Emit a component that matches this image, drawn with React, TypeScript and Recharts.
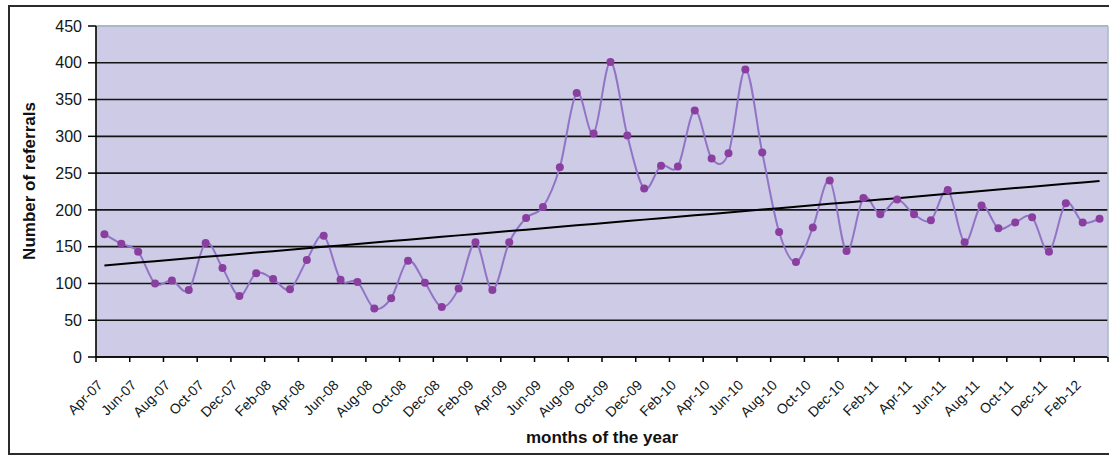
import React from 'react';
import { LineChart, Line, XAxis, YAxis, CartesianGrid, ReferenceLine } from 'recharts';

// Monthly categories, Apr-07 through Mar-12
const months = [
  'Apr-07', 'May-07', 'Jun-07', 'Jul-07', 'Aug-07', 'Sep-07', 'Oct-07', 'Nov-07', 'Dec-07',
  'Jan-08', 'Feb-08', 'Mar-08', 'Apr-08', 'May-08', 'Jun-08', 'Jul-08', 'Aug-08', 'Sep-08', 'Oct-08', 'Nov-08', 'Dec-08',
  'Jan-09', 'Feb-09', 'Mar-09', 'Apr-09', 'May-09', 'Jun-09', 'Jul-09', 'Aug-09', 'Sep-09', 'Oct-09', 'Nov-09', 'Dec-09',
  'Jan-10', 'Feb-10', 'Mar-10', 'Apr-10', 'May-10', 'Jun-10', 'Jul-10', 'Aug-10', 'Sep-10', 'Oct-10', 'Nov-10', 'Dec-10',
  'Jan-11', 'Feb-11', 'Mar-11', 'Apr-11', 'May-11', 'Jun-11', 'Jul-11', 'Aug-11', 'Sep-11', 'Oct-11', 'Nov-11', 'Dec-11',
  'Jan-12', 'Feb-12', 'Mar-12',
];

// Number of referrals per month
const referrals = [
  167, 154, 143, 100, 104, 91, 155, 121, 83, 114,
  106, 92, 132, 165, 105, 102, 66, 80, 131, 101,
  68, 93, 156, 91, 156, 189, 204, 258, 359, 304,
  401, 301, 229, 260, 259, 335, 270, 277, 391, 278,
  170, 129, 176, 240, 144, 216, 194, 214, 194, 186,
  227, 156, 206, 175, 183, 190, 143, 209, 183, 188,
];

const yTicks = [0, 50, 100, 150, 200, 250, 300, 350, 400, 450];

// Least-squares linear trend over the monthly series
const n = referrals.length;
const meanX = (n - 1) / 2;
const meanY = referrals.reduce((s, v) => s + v, 0) / n;
let sxy = 0;
let sxx = 0;
referrals.forEach((v, i) => {
  sxy += (i - meanX) * (v - meanY);
  sxx += (i - meanX) * (i - meanX);
});
const slope = sxy / sxx;
const intercept = meanY - slope * meanX;

const data = months.map((m, i) => ({
  month: m,
  referrals: referrals[i],
  trend: intercept + slope * i,
}));

// Layout
const W = 1109;
const H = 459;
const MARGIN = { top: 26, right: 0, bottom: 42, left: 36 };
const Y_AXIS_W = 60;
const RIGHT_AXIS_W = 1;
const X_AXIS_H = 60;
const PLOT_LEFT = MARGIN.left + Y_AXIS_W;
const PLOT_W = W - PLOT_LEFT - MARGIN.right - RIGHT_AXIS_W;
const AXIS_Y = H - MARGIN.bottom - X_AXIS_H;
const BAND = PLOT_W / months.length;

const FONT = '"Liberation Sans", Arial, sans-serif';
const TEXT = '#101820';

// Smoothed line through every point (cubic Bezier, 1/6 tangent factor)
const smoothCurve = (context: any) => {
  let pts: number[][] = [];
  return {
    areaStart() {},
    areaEnd() {},
    lineStart() {
      pts = [];
    },
    lineEnd() {
      const len = pts.length;
      if (!len) return;
      context.moveTo(pts[0][0], pts[0][1]);
      for (let i = 0; i < len - 1; i++) {
        const p0 = pts[i - 1] || pts[i];
        const p1 = pts[i];
        const p2 = pts[i + 1];
        const p3 = pts[i + 2] || p2;
        context.bezierCurveTo(
          p1[0] + (p2[0] - p0[0]) / 6,
          p1[1] + (p2[1] - p0[1]) / 6,
          p2[0] - (p3[0] - p1[0]) / 6,
          p2[1] - (p3[1] - p1[1]) / 6,
          p2[0],
          p2[1]
        );
      }
    },
    point(x: number, y: number) {
      pts.push([+x, +y]);
    },
  };
};

const XTick = (props: any) => {
  const { x, payload } = props;
  const idx = months.indexOf(payload.value);
  const edge = x - BAND / 2;
  return (
    <g>
      <line x1={edge} x2={edge} y1={AXIS_Y} y2={AXIS_Y + 5} stroke="#000" strokeWidth={1.5} />
      {idx === months.length - 2 && (
        <line
          x1={edge + 2 * BAND}
          x2={edge + 2 * BAND}
          y1={AXIS_Y}
          y2={AXIS_Y + 5}
          stroke="#000"
          strokeWidth={1.5}
        />
      )}
      <text
        transform={`translate(${x - 1},${AXIS_Y + 29}) rotate(-45)`}
        textAnchor="end"
        fontFamily={FONT}
        fontSize={14}
        fill={TEXT}
      >
        {payload.value}
      </text>
    </g>
  );
};

const YTitle = () => (
  <text
    x={29}
    y={181}
    transform="rotate(-90 29 181)"
    textAnchor="middle"
    dominantBaseline="central"
    fontFamily={FONT}
    fontWeight="bold"
    fontSize={17}
    fill="#111"
  >
    Number of referrals
  </text>
);

const XTitle = () => (
  <text
    x={PLOT_LEFT + PLOT_W / 2}
    y={443}
    textAnchor="middle"
    fontFamily={FONT}
    fontWeight="bold"
    fontSize={17}
    fill="#111"
  >
    months of the year
  </text>
);

export default function App() {
  return (
    <div style={{ position: 'absolute', left: 0, top: 0, width: W, height: H, background: '#fff' }}>
      <div
        style={{
          position: 'absolute',
          left: 8,
          top: 5,
          width: W + 10,
          height: 450,
          borderTop: '2px solid #2b2b2b',
          borderLeft: '2px solid #2b2b2b',
          borderBottom: '2px solid #2b2b2b',
          boxSizing: 'border-box',
        }}
      />
      <div style={{ position: 'absolute', left: 0, top: 0 }}>
        <LineChart width={W} height={H} data={data} margin={MARGIN}>
          <CartesianGrid
            vertical={false}
            stroke="#141414"
            strokeWidth={1.6}
            fill="#CDCBE5"
            fillOpacity={1}
          />
          <ReferenceLine y={450} stroke="#A9B7CB" strokeWidth={2} ifOverflow="extendDomain" />
          <XAxis
            dataKey="month"
            interval={1}
            height={X_AXIS_H}
            padding={{ left: BAND / 2, right: BAND / 2 }}
            tickLine={false}
            axisLine={{ stroke: '#000', strokeWidth: 1.6 }}
            tick={(p: any) => <XTick {...p} />}
            label={() => <XTitle />}
          />
          <YAxis
            width={Y_AXIS_W}
            domain={[0, 450]}
            ticks={yTicks}
            interval={0}
            tickSize={8}
            tickMargin={6}
            tickLine={{ stroke: '#000', strokeWidth: 1.5 }}
            axisLine={{ stroke: '#000', strokeWidth: 1.6 }}
            tick={{ fontFamily: FONT, fontSize: 16, fill: TEXT }}
            label={() => <YTitle />}
          />
          <YAxis
            yAxisId="edge"
            orientation="right"
            width={RIGHT_AXIS_W}
            tick={false}
            tickLine={false}
            axisLine={{ stroke: '#A9B7CB', strokeWidth: 1.5 }}
          />
          <Line
            dataKey="referrals"
            type={smoothCurve as any}
            stroke="#9274C6"
            strokeWidth={2}
            dot={{ r: 4, fill: '#8A3E9F', stroke: 'none' }}
            activeDot={false}
            isAnimationActive={false}
          />
          <Line
            dataKey="trend"
            type="linear"
            stroke="#000"
            strokeWidth={2}
            dot={false}
            activeDot={false}
            isAnimationActive={false}
          />
        </LineChart>
      </div>
    </div>
  );
}
